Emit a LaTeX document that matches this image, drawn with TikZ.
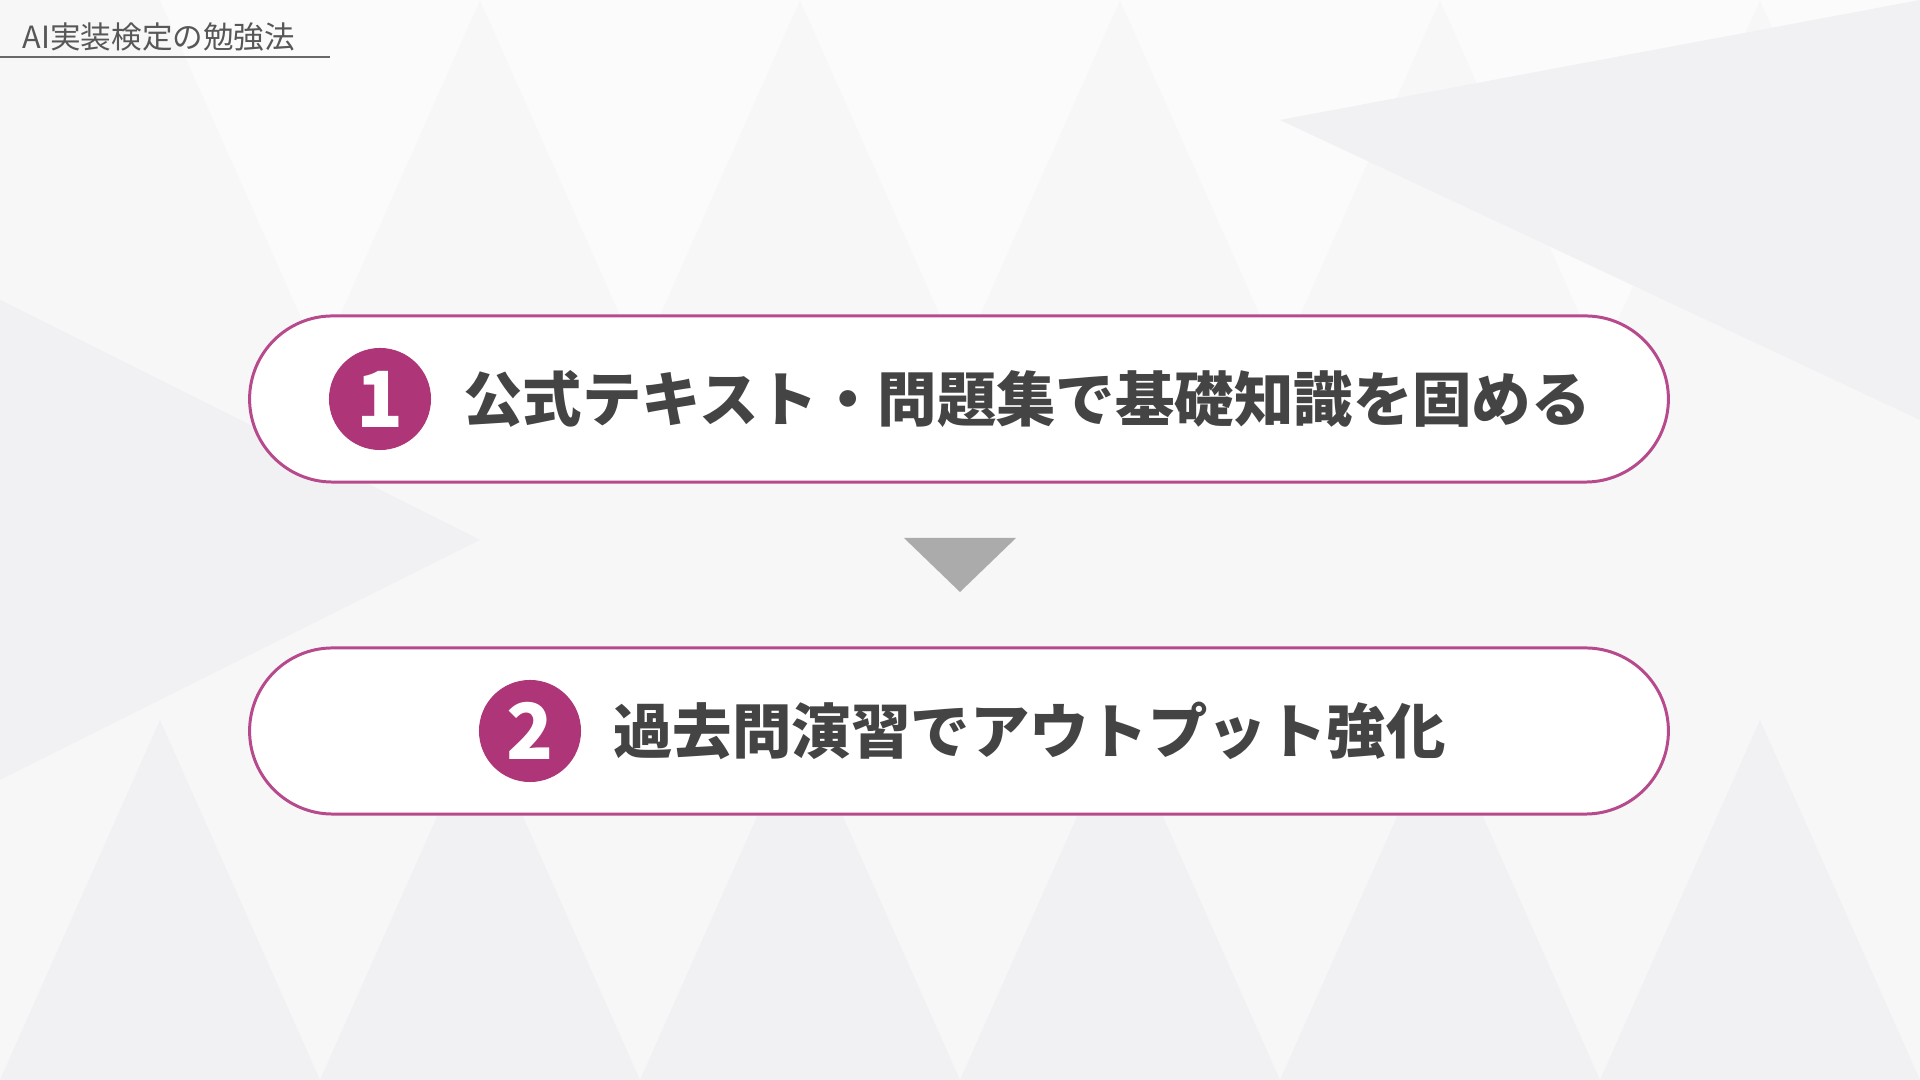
\documentclass[tikz,border=0pt]{standalone}
\usepackage{fontspec}
\setmainfont{Noto Sans CJK JP}
\usepackage{xcolor}
\usetikzlibrary{positioning}

\definecolor{plum}{HTML}{AD3578}
\definecolor{plumline}{HTML}{B64A8C}
\definecolor{ink}{HTML}{444444}
\definecolor{paper}{HTML}{F7F7F8}
\definecolor{haze}{HTML}{F1F1F3}
\definecolor{pale}{HTML}{FBFBFB}

\begin{document}
\begin{tikzpicture}[x=0.01cm, y=-0.01cm, node distance=0.31cm,
    pill/.style={draw=plumline, line width=0.85pt, fill=white, rounded corners=0.83cm, minimum width=14.18cm, minimum height=1.66cm},
    numdot/.style={circle, fill=plum, text=white, minimum size=1.02cm, inner sep=0pt, font=\bfseries\fontsize{22}{22}\selectfont},
    steptext/.style={text=ink, inner sep=0pt, font=\bfseries\fontsize{16.9}{16.9}\selectfont}]
    \useasboundingbox (0,0) rectangle (1920,1080);

    % Background
    \fill[paper] (0,0) rectangle (1920,1080);
    \foreach \x in {0,320,...,1600}{
        \fill[haze] (\x,1080) -- (\x+160,720) -- (\x+320,1080) -- cycle;
        \fill[pale] (\x+160,0) -- (\x+320,360) -- (\x+480,0) -- cycle;
    }
    \fill[haze] (1280,120) -- (1920,420) -- (1920,0) -- cycle;
    \fill[haze] (0,300) -- (480,540) -- (0,780) -- cycle;

    % Title
    \node[anchor=base west, inner sep=0pt, text=ink!90, font=\fontsize{8.7}{8.7}\selectfont] (title) at (22,49) {AI実装検定の勉強法};
    \draw[ink!80, line width=0.6pt] (0,57) -- (330,57);

    % Nodes
    \node[pill] (p1) at (959,399) {};
    \node[numdot] (n1) at (380,399) {1};
    \node[steptext, right=of n1] (t1) {公式テキスト・問題集で基礎知識を固める};

    \node[pill] (p2) at (959,731) {};
    \node[numdot] (n2) at (530,731) {2};
    \node[steptext, right=of n2] (t2) {過去問演習でアウトプット強化};

    % Arrow
    \fill[black!33] (904,538) -- (1016,538) -- (960,592) -- cycle;

\end{tikzpicture}
\end{document}
